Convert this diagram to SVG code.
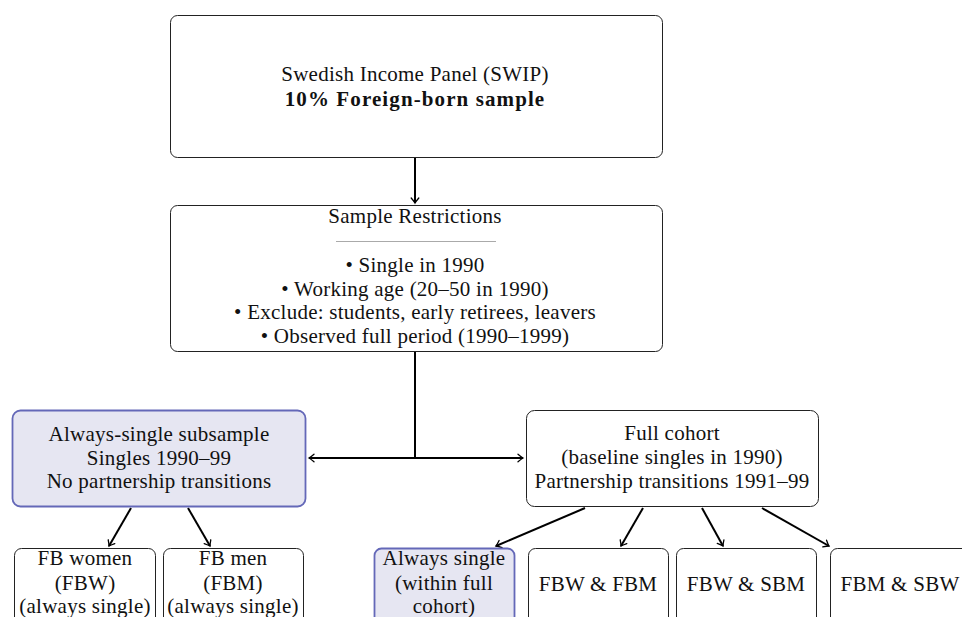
<svg xmlns="http://www.w3.org/2000/svg" width="962" height="617" viewBox="0 0 962 617">
<defs>
<marker id="arr" viewBox="-6 -5 8 10" markerWidth="8" markerHeight="10" refX="0" refY="0" orient="auto" markerUnits="userSpaceOnUse">
<path d="M -5 -3.8 Q -1.5 -0.8 0 0 Q -1.5 0.8 -5 3.8" fill="none" stroke="#000" stroke-width="1.3" stroke-linecap="round"/>
</marker>
</defs>
<style>
.box{fill:#fff;stroke:#222;stroke-width:1}
.hl{fill:#e6e6f2;stroke:#6468b8;stroke-width:1.8}
text{font-family:"Liberation Serif","DejaVu Serif",serif;font-size:21px;letter-spacing:0.25px;fill:#111;text-anchor:middle}
.b{font-weight:bold;letter-spacing:1.1px}
.c{fill:none;stroke:#000;stroke-width:2}
.ca{fill:none;stroke:#000;stroke-width:2;marker-end:url(#arr)}
</style>
<rect width="962" height="617" fill="#fff"/>
<g id="connectors">
<line class="ca" x1="415" y1="158" x2="415" y2="203"/>
<polyline class="c" points="415,352 415,458"/>
<line class="ca" x1="415" y1="458" x2="309" y2="458"/>
<line class="ca" x1="415" y1="458" x2="523" y2="458"/>
<line class="ca" x1="131" y1="508" x2="109" y2="546"/>
<line class="ca" x1="188" y1="508" x2="210" y2="546"/>
<line class="ca" x1="585" y1="508" x2="496" y2="546"/>
<line class="ca" x1="643" y1="508" x2="621" y2="546"/>
<line class="ca" x1="702" y1="508" x2="723" y2="546"/>
<line class="ca" x1="762" y1="508" x2="829" y2="546"/>
</g>
<g id="swip">
<rect class="box" x="170.5" y="15.5" width="492" height="142" rx="7"/>
<text x="415" y="81">Swedish Income Panel (SWIP)</text>
<text x="415" y="106" class="b">10% Foreign-born sample</text>
</g>
<g id="restrictions">
<rect class="box" x="170.5" y="205.5" width="492" height="146" rx="7"/>
<text x="415" y="223">Sample Restrictions</text>
<line x1="336" y1="241.5" x2="496" y2="241.5" stroke="#aaa" stroke-width="1"/>
<text x="415" y="272">• Single in 1990</text>
<text x="415" y="296">• Working age (20–50 in 1990)</text>
<text x="415" y="319">• Exclude: students, early retirees, leavers</text>
<text x="415" y="343">• Observed full period (1990–1999)</text>
</g>
<g id="always-single-sub">
<rect class="hl" x="12.5" y="410.5" width="293" height="96" rx="8"/>
<text x="159" y="441">Always-single subsample</text>
<text x="159" y="465">Singles 1990–99</text>
<text x="159" y="488">No partnership transitions</text>
</g>
<g id="full-cohort">
<rect class="box" x="526.5" y="410.5" width="292" height="96" rx="8"/>
<text x="672" y="440">Full cohort</text>
<text x="672" y="464">(baseline singles in 1990)</text>
<text x="672" y="488">Partnership transitions 1991–99</text>
</g>
<g id="fbw">
<rect class="box" x="14.5" y="548.5" width="141" height="90" rx="7"/>
<text x="85" y="565">FB women</text>
<text x="85" y="590">(FBW)</text>
<text x="85" y="613">(always single)</text>
</g>
<g id="fbm">
<rect class="box" x="163.5" y="548.5" width="140" height="90" rx="7"/>
<text x="233" y="565">FB men</text>
<text x="233" y="590">(FBM)</text>
<text x="233" y="613">(always single)</text>
</g>
<g id="always-single-full">
<rect class="hl" x="374.5" y="548.5" width="140" height="90" rx="7"/>
<text x="444" y="565">Always single</text>
<text x="444" y="590">(within full</text>
<text x="444" y="613">cohort)</text>
</g>
<g id="fbw-fbm">
<rect class="box" x="528.5" y="548.5" width="140" height="90" rx="7"/>
<text x="598" y="591">FBW &amp; FBM</text>
</g>
<g id="fbw-sbm">
<rect class="box" x="676.5" y="548.5" width="140" height="90" rx="7"/>
<text x="746" y="591">FBW &amp; SBM</text>
</g>
<g id="fbm-sbw">
<rect class="box" x="830.5" y="548.5" width="140" height="90" rx="7"/>
<text x="900" y="591">FBM &amp; SBW</text>
</g>
</svg>
